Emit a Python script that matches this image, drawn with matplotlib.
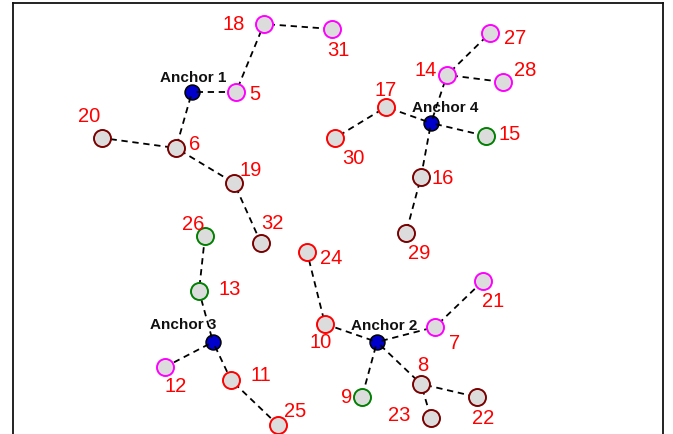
import matplotlib
matplotlib.use("Agg")
import matplotlib.pyplot as plt

plt.rcParams["font.family"] = ["Liberation Sans", "DejaVu Sans"]

# Node ids and their layout coordinates (x to the right, y downward)
node_ids = ["A1", "A2", "A3", "A4",
            "5", "6", "7", "8", "9", "10", "11", "12", "13", "14", "15", "16",
            "17", "18", "19", "20", "21", "22", "23", "24", "25", "26", "27",
            "28", "29", "30", "31", "32"]
node_x = [192, 377, 213, 431,
          236, 176, 435, 421, 362, 325, 231, 165, 199, 447, 486, 421,
          386, 264, 234, 102, 483, 477, 431, 307, 278, 205, 490,
          503, 406, 335, 332, 261]
node_y = [92, 342, 342, 123,
          92, 148, 327, 384, 397, 324, 380, 367, 291, 75, 136, 177,
          107, 24, 183, 138, 281, 397, 418, 252, 425, 236, 33,
          82, 233, 138, 29, 243]

# Group of each regular node (determines outline colour)
node_group = {
    "5": "magenta", "18": "magenta", "31": "magenta", "14": "magenta",
    "27": "magenta", "28": "magenta", "12": "magenta", "7": "magenta",
    "21": "magenta",
    "20": "maroon", "6": "maroon", "19": "maroon", "32": "maroon",
    "16": "maroon", "29": "maroon", "8": "maroon", "22": "maroon",
    "23": "maroon",
    "17": "red", "30": "red", "24": "red", "10": "red", "11": "red",
    "25": "red",
    "15": "green", "26": "green", "13": "green", "9": "green",
}
group_colors = {"magenta": "#ff00ff", "maroon": "#7a0000",
                "red": "#ff0000", "green": "#008000"}

anchor_names = {"A1": "Anchor 1", "A2": "Anchor 2",
                "A3": "Anchor 3", "A4": "Anchor 4"}

# Links between nodes (parent first)
edges = [("A1", "5"), ("5", "18"), ("18", "31"), ("A1", "6"), ("6", "20"),
         ("6", "19"), ("19", "32"),
         ("A4", "17"), ("17", "30"), ("A4", "14"), ("14", "27"), ("14", "28"),
         ("A4", "15"), ("A4", "16"), ("16", "29"),
         ("A3", "13"), ("13", "26"), ("A3", "12"), ("A3", "11"), ("11", "25"),
         ("A2", "10"), ("10", "24"), ("A2", "7"), ("7", "21"), ("A2", "8"),
         ("8", "22"), ("8", "23"), ("A2", "9")]

# Label placement relative to each node, in pixels (dx right, dy down)
label_offset = {
    "A1": (1, -14), "A2": (7, -16), "A3": (-30, -17), "A4": (14, -15),
    "5": (19, 2), "6": (19, -3), "7": (20, 16), "8": (2, -19),
    "9": (-15, 0), "10": (-4, 18), "11": (30, -5), "12": (11, 19),
    "13": (31, -2), "14": (-21, -4), "15": (24, -1), "16": (22, 1),
    "17": (0, -16), "18": (-30, 1), "19": (17, -13), "20": (-13, -21),
    "21": (10, 20), "22": (6, 21), "23": (-32, -3), "24": (24, 6),
    "25": (17, -14), "26": (-12, -12), "27": (25, 6), "28": (22, -11),
    "29": (13, 20), "30": (18, 20), "31": (6, 21), "32": (11, -20),
}

W, H, DPI = 673, 434, 100
fig = plt.figure(figsize=(W / DPI, H / DPI), dpi=DPI)
left, right, top, bottom = 13, 663, 3, 480
ax = fig.add_axes([left / W, 1 - bottom / H, (right - left) / W, (bottom - top) / H])
ax.set_xlim(left, right)
ax.set_ylim(bottom, top)
ax.set_xticks([])
ax.set_yticks([])
for s in ax.spines.values():
    s.set_linewidth(1.3)
    s.set_color("#111111")

pos = {n: (x, y) for n, x, y in zip(node_ids, node_x, node_y)}

# dashed links start with a gap so the parent marker stays mostly clear
for a, b in edges:
    (x0, y0), (x1, y1) = pos[a], pos[b]
    ax.plot([x0, x1], [y0, y1], color="black", lw=1.3,
            linestyle=(3.5, (3.5, 2.6)), zorder=2)

for n in node_ids:
    x, y = pos[n]
    if n in anchor_names:
        ax.scatter([x], [y], s=115, facecolor="#0000cc", edgecolor="black",
                   linewidth=1.1, zorder=1)
    else:
        ax.scatter([x], [y], s=150, facecolor="#dcdcdc",
                   edgecolor=group_colors[node_group[n]], linewidth=1.4,
                   zorder=3)

for n in node_ids:
    x, y = pos[n]
    dx, dy = label_offset[n]
    if n in anchor_names:
        ax.text(x + dx, y + dy, anchor_names[n], fontsize=11, fontweight="bold",
                color="#111111", ha="center", va="center", zorder=1.5)
    else:
        ax.text(x + dx, y + dy, n, fontsize=14.5, color="#ff0000",
                ha="center", va="center", zorder=4)

fig.savefig("out.png", dpi=DPI)
